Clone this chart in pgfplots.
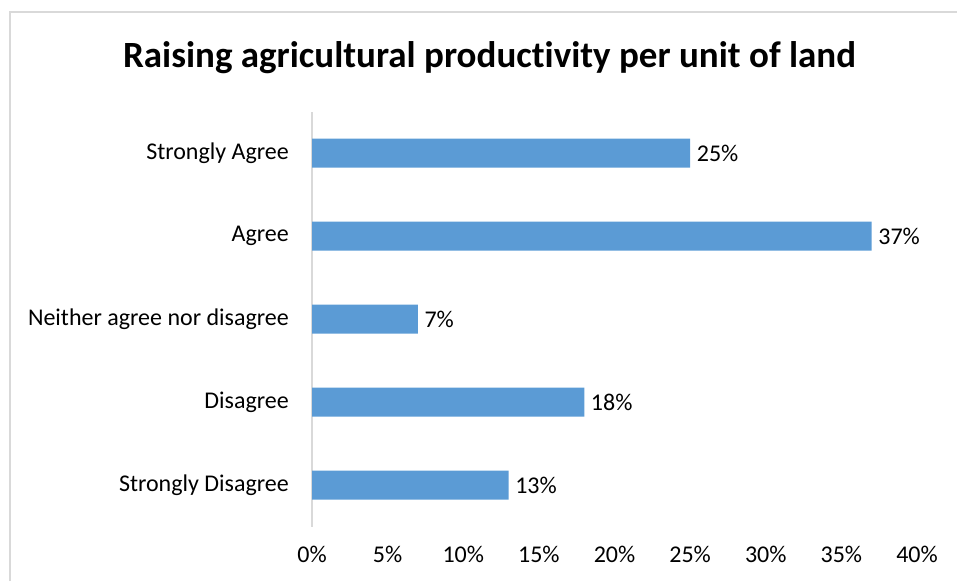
\documentclass[border=0pt]{standalone}
\usepackage{fontspec}
\setmainfont{Carlito}[RawFeature={-liga;-clig;-calt;-dlig}]
\usepackage{pgfplots}
\pgfplotsset{compat=1.18}
\definecolor{barblue}{HTML}{5B9BD5}
\definecolor{axgray}{HTML}{D9D9D9}
\begin{document}
\begin{tikzpicture}[x=1pt,y=1pt]
\useasboundingbox (0,0) rectangle (957,-581);
\draw[axgray, line width=1.5pt] (10,-581) -- (10,-12) -- (957,-12);
\node[font=\fontsize{37}{44}\selectfont\bfseries] at (489.5,-58) {Raising agricultural productivity per unit of land};
\begin{axis}[
 at={(312pt,-526.5pt)}, anchor=south west,
 scale only axis, width=605pt, height=415pt,
 xmin=0, xmax=40, ymin=-0.5, ymax=4.5,
 xbar, bar width=29pt,
 axis lines*=left,
 x axis line style={draw=none},
 y axis line style={draw=axgray, line width=1.5pt},
 xtick={0,5,...,40},
 xticklabels={0\%,5\%,10\%,15\%,20\%,25\%,30\%,35\%,40\%},
 ytick={0,1,2,3,4},
 yticklabels={Strongly Disagree,Disagree,Neither agree nor disagree,Agree,Strongly Agree},
 major tick length=0pt,
 tick style={draw=none},
 ticklabel style={font=\fontsize{24}{28}\selectfont},
 xticklabel style={anchor=center, yshift=-28pt},
 yticklabel style={anchor=east, inner sep=0pt, xshift=-23pt},
 nodes near coords={\pgfmathprintnumber[assume math mode=true]{\pgfplotspointmeta}\%},
 nodes near coords style={font=\fontsize{24}{28}\selectfont, anchor=west, inner sep=0pt, xshift=6.5pt},
 clip=false,
]
\addplot[fill=barblue, draw=none] coordinates {(13,0) (18,1) (7,2) (37,3) (25,4)};
\end{axis}
\end{tikzpicture}
\end{document}
